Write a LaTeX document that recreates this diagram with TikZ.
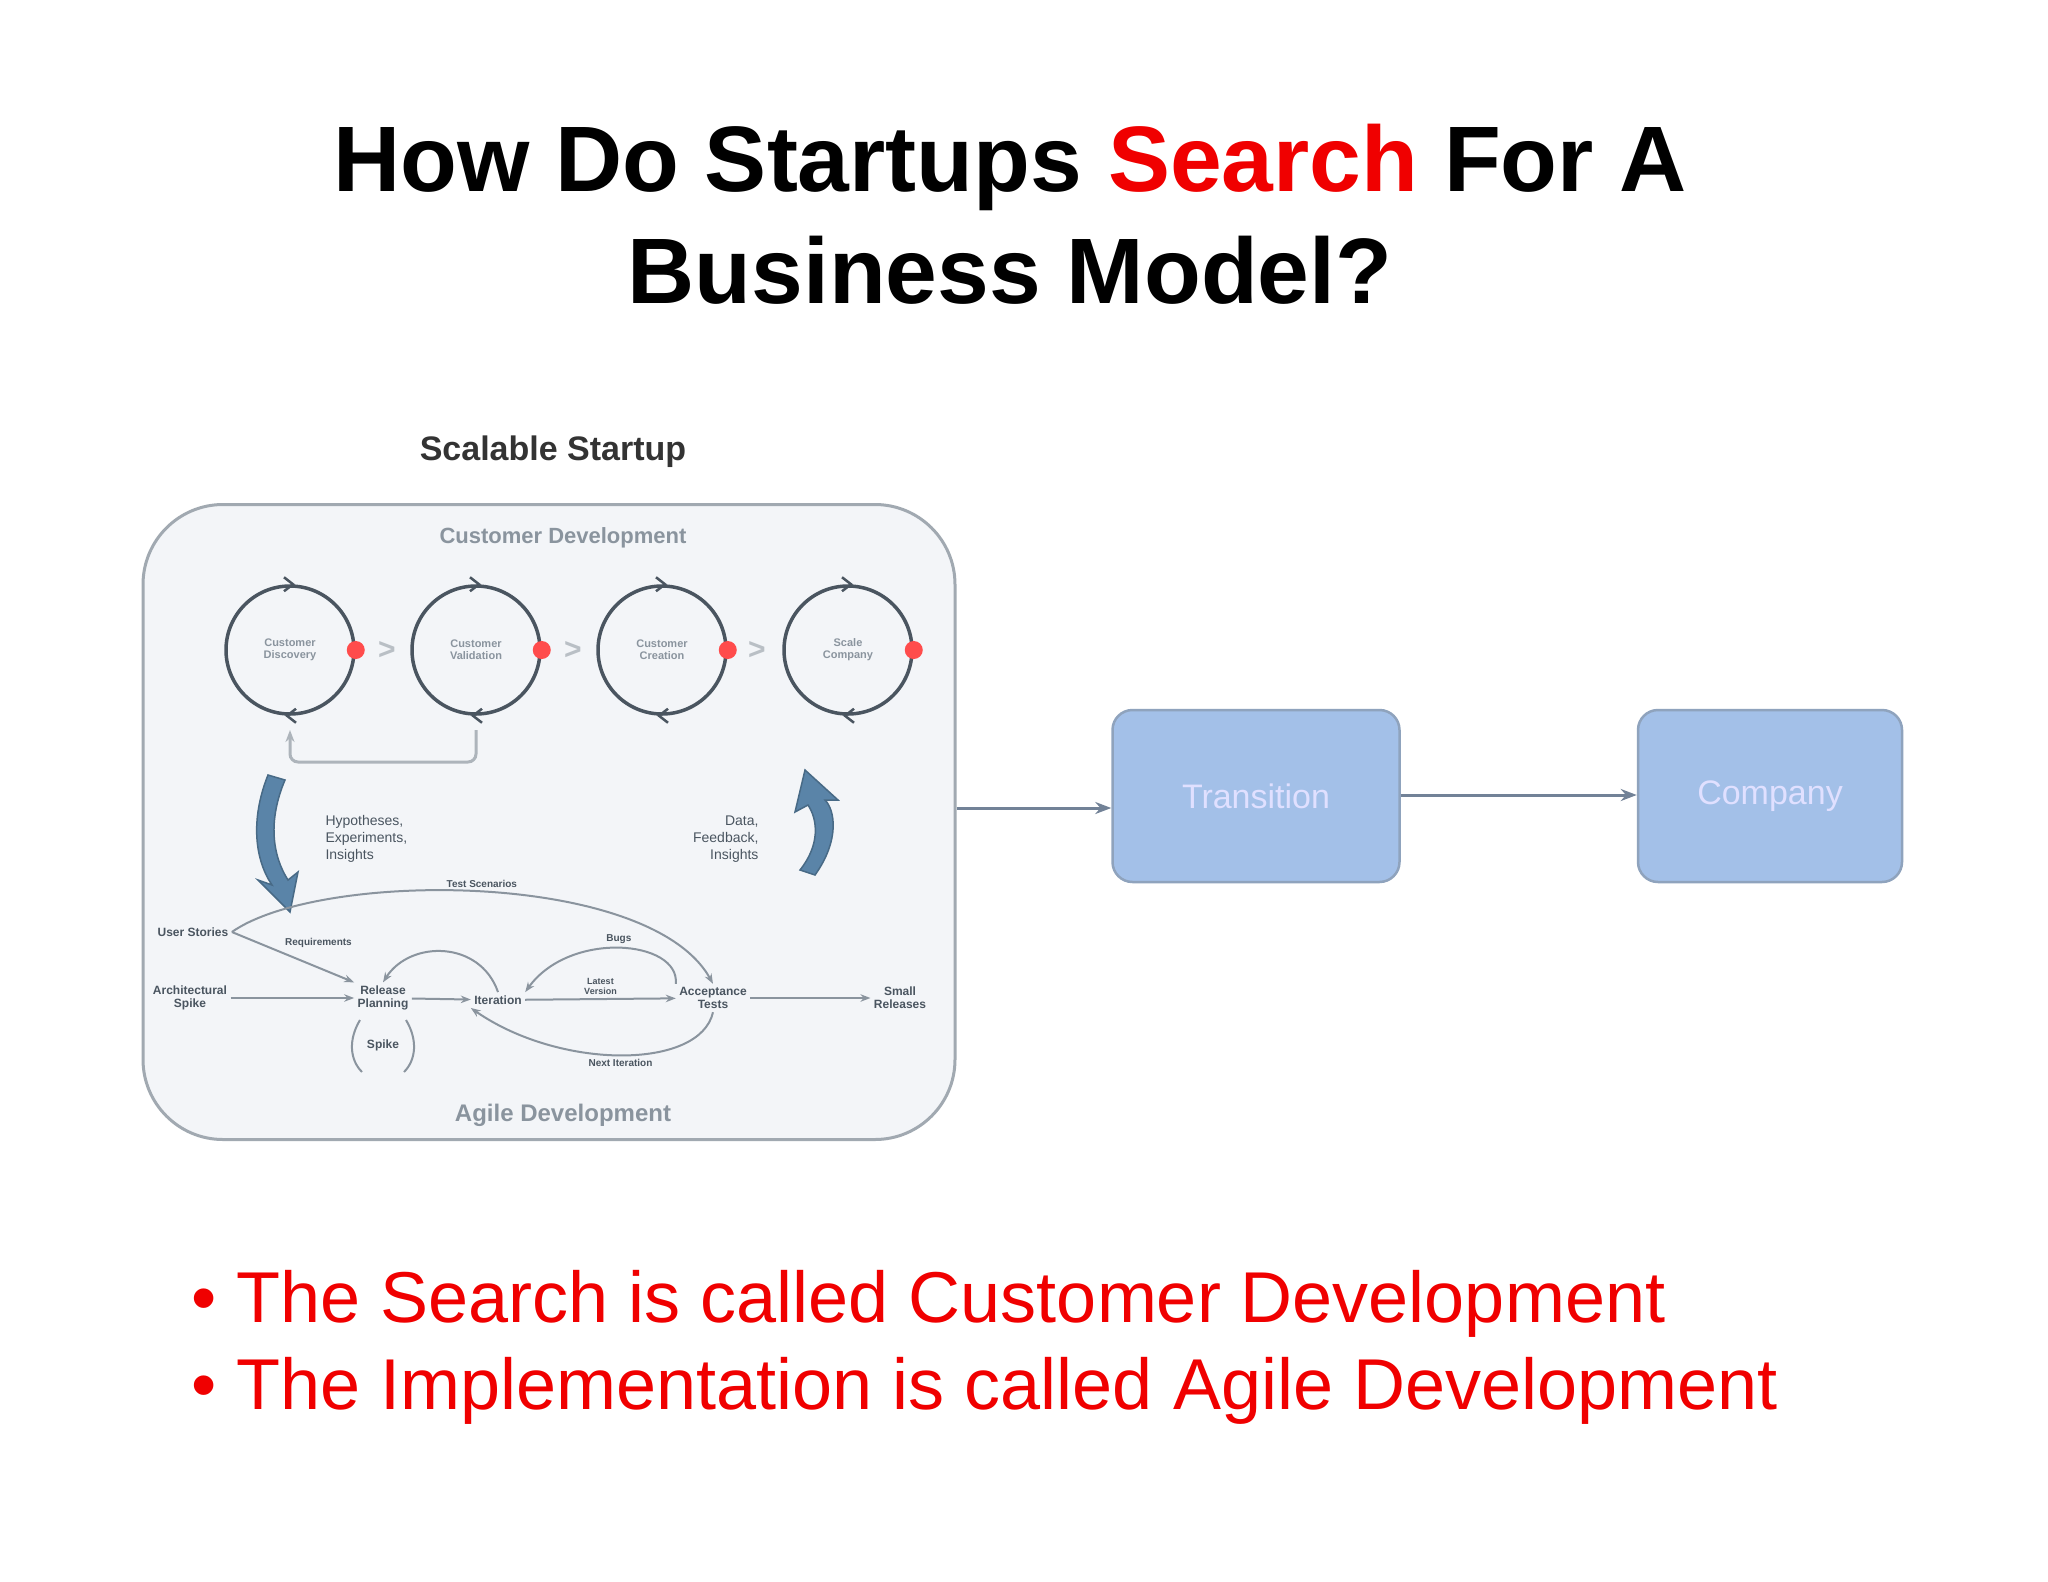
\documentclass[tikz,border=0pt]{standalone}
\usepackage{fontspec}
\setmainfont{Liberation Sans}
\usetikzlibrary{arrows.meta}
\definecolor{ttl}{HTML}{000000}
\definecolor{sred}{HTML}{F00000}
\definecolor{lgr}{HTML}{8A949E}
\definecolor{dgr}{HTML}{4A5560}
\definecolor{bfill}{HTML}{A3C0E8}
\definecolor{bdr}{HTML}{8FA3BD}
\definecolor{panel}{HTML}{F3F5F8}
\definecolor{barrow}{HTML}{5A84A8}
\tikzset{
 cyc/.style={circle,draw=dgr,line width=3.5pt,minimum size=128pt,inner sep=0pt,font=\fontsize{11}{12}\selectfont\bfseries,text=lgr,align=center},
 rdot/.style={circle,fill=red!60!pink,minimum size=18pt,inner sep=0pt},
 tiny/.style={font=\fontsize{12}{13}\selectfont\bfseries,text=dgr,align=center},
 tinyl/.style={font=\fontsize{14}{17}\selectfont,text=dgr,align=left},
 ag/.style={draw=lgr,line width=2pt,-{Stealth[length=10pt]}},
 bigbox/.style={draw=bdr,line width=2.5pt,fill=bfill,rounded corners=20pt,font=\fontsize{34}{36}\selectfont,text=white!88!blue},
 conn/.style={draw=bdr!80!black,line width=3pt,-{Stealth[length=16pt]}},
 bull/.style={font=\fontsize{72}{76}\selectfont,text=sred,anchor=base west}
}
\begin{document}
\begin{tikzpicture}[x=1pt,y=-1pt]
\useasboundingbox (0,0) rectangle (2048,1582);
\fill[white] (0,0) rectangle (2048,1582);
\node[font=\fontsize{93}{112}\selectfont\bfseries,align=center] (title) at (1010,214)
 {How Do Startups \textcolor{sred}{Search} For A\\Business Model?};
\node[font=\fontsize{34}{36}\selectfont\bfseries,text=black!80] (ss) at (553,452) {Scalable Startup};
\node[draw=lgr!80,line width=3pt,fill=panel,rounded corners=80pt,minimum width=812pt,minimum height=635pt] (panel) at (549,822) {};
\node[font=\fontsize{22}{24}\selectfont\bfseries,text=lgr] (cd) at (563,538) {Customer Development};
\node[font=\fontsize{24}{26}\selectfont\bfseries,text=lgr] (ad) at (563,1115) {Agile Development};
\node[cyc] (c1) at (290,650) {Customer\\Discovery};
\node[cyc] (c2) at (476,650) {Customer\\Validation};
\node[cyc] (c3) at (662,650) {Customer\\Creation};
\node[cyc] (c4) at (848,650) {Scale\\Company};
\foreach \c in {c1,c2,c3,c4}{\node[rdot] at (\c.east) {};
 \draw[dgr,line width=2.5pt] ([xshift=-6pt,yshift=-7pt]\c.north) -- ([xshift=3pt]\c.north) -- ([xshift=-6pt,yshift=7pt]\c.north);
 \draw[dgr,line width=2.5pt] ([xshift=6pt,yshift=-7pt]\c.south) -- ([xshift=-3pt]\c.south) -- ([xshift=6pt,yshift=7pt]\c.south);}
\foreach \x in {387,573,757}{\node[font=\fontsize{30}{30}\selectfont\bfseries,text=lgr!60] at (\x,650) {>};}
\coordinate (fb1) at (476,730);
\coordinate (fb2) at (290,730);
\draw[draw=lgr!70,line width=3pt,-{Stealth[length=12pt]},rounded corners=8pt] (fb1) -- (476,762) -- (290,762) -- (fb2);
% big blue arrows
\draw[barrow!80!black,fill=barrow,line width=1.5pt] (268,775) .. controls (250,820) and (255,860) .. (272,885)
 -- (258,880) -- (290,912) -- (298,872) -- (288,880) .. controls (272,855) and (268,820) .. (285,780) -- cycle;
\draw[barrow!80!black,fill=barrow,line width=1.5pt] (815,875) .. controls (840,840) and (835,810) .. (825,800)
 -- (838,800) -- (805,770) -- (795,812) -- (808,805) .. controls (818,820) and (820,845) .. (800,870) -- cycle;
\node[tinyl,anchor=north west] (hyp) at (322,812) {Hypotheses,\\Experiments,\\Insights};
\node[tinyl,anchor=north east,align=right] (dat) at (762,812) {Data,\\Feedback,\\Insights};
% agile row
\node[tiny] (us) at (193,932) {User Stories};
\node[tiny] (as) at (190,998) {Architectural\\Spike};
\node[tiny] (rp) at (383,998) {Release\\Planning};
\node[tiny] (it) at (498,1000) {Iteration};
\node[tiny] (at) at (713,998) {Acceptance\\Tests};
\node[tiny] (sr) at (900,998) {Small\\Releases};
\node[tiny] (sp) at (383,1045) {Spike};
\draw[ag] (as) -- (rp);
\draw[ag] (rp) -- (it);
\draw[ag] (it) -- node[above,tiny,font=\fontsize{9}{10}\selectfont\bfseries]{Latest\\Version} (at);
\draw[ag] (at) -- (sr);
\draw[ag] (us.east) -- node[above right,tiny,font=\fontsize{10}{10}\selectfont\bfseries,pos=0.4]{Requirements} (rp.north west);
\draw[ag] (us.east) .. controls (320,870) and (650,870) .. node[above,tiny,font=\fontsize{10}{10}\selectfont\bfseries]{Test Scenarios} (at.north);
\draw[ag] (it.north) .. controls (480,940) and (410,940) .. (rp.north);
\draw[ag] (at.north west) .. controls (680,940) and (570,930) .. node[above,tiny,font=\fontsize{10}{10}\selectfont\bfseries]{Bugs} (it.north east);
\draw[ag] (at.south) .. controls (700,1070) and (560,1070) .. node[below,tiny,font=\fontsize{10}{10}\selectfont\bfseries]{Next Iteration} (it.south west);
\draw[draw=lgr,line width=2pt] (360,1020) .. controls (348,1040) and (350,1060) .. (362,1072);
\draw[draw=lgr,line width=2pt] (406,1020) .. controls (418,1040) and (416,1060) .. (404,1072);
% right boxes
\node[bigbox,minimum width=287pt,minimum height=172pt] (tr) at (1256,796) {Transition};
\node[bigbox,minimum width=264pt,minimum height=172pt] (co) at (1770,796) {Company};
\draw[conn] (panel.east |- 0,808) -- (tr.west |- 0,808);
\draw[conn] (tr.east |- 0,795) -- (co.west |- 0,795);
\node[bull] (b1) at (188,1322) {• The Search is called Customer Development};
\node[bull] (b2) at (188,1409) {• The Implementation is called Agile Development};
\end{tikzpicture}
\end{document}
